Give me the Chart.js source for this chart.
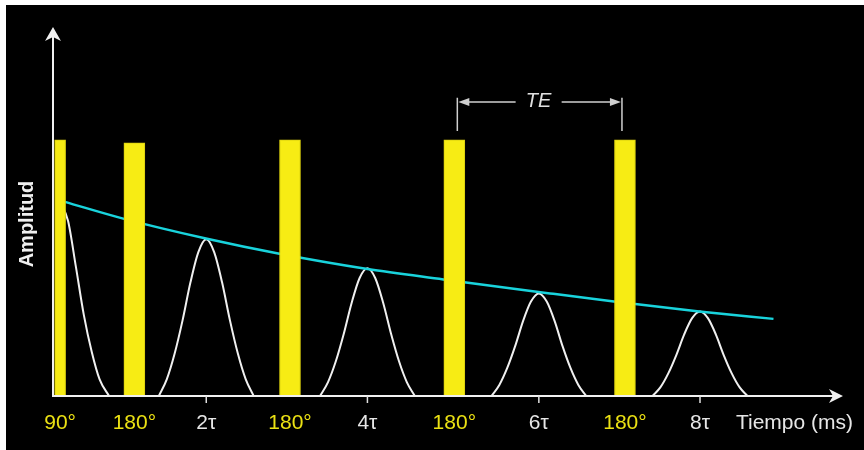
<!DOCTYPE html>
<html>
<head>
<meta charset="utf-8">
<script src="https://cdn.jsdelivr.net/npm/chart.js@4.4.1/dist/chart.umd.min.js"></script>
<style>
  html, body { margin: 0; background: #fff; }
  #wrap { position: absolute; left: 6px; top: 5px; width: 858px; height: 445px; background: #000; }
</style>
</head>
<body>
<div id="wrap"><canvas id="echoChart" width="858" height="445"></canvas></div>
<script>
// pulses (ms, amplitude in arbitrary units 0-100)
const pulseTimes = [0, 9.4, 29.1, 49.9, 71.5];
const pulseHeights = [69.4, 68.6, 69.4, 69.4, 69.4];

// T2 decay envelope (cyan)
const decayTimes = [0.6, 8.1, 18.6, 27.6, 38.9, 48.5, 62.0, 70.1, 80.9, 90.3];
const decayAmps = [52.6, 48.0, 42.6, 38.6, 34.4, 31.6, 27.8, 25.6, 22.9, 20.9];

// FID after the 90° pulse
const fidTimes = [0, 1, 2, 3, 4, 5, 6.2];
const fidAmps = [52.6, 47.5, 35.0, 22.0, 12.0, 4.5, 0];

// echoes
const echo2Times = [12.5, 13.5, 14.5, 15.5, 16.5, 17.5, 18.5, 19.5, 20.5, 21.5, 22.5, 23.5, 24.5];
const echo2Amps = [0, 4.5, 11.5, 20.5, 30.8, 39.0, 42.5, 39.0, 30.8, 20.5, 11.5, 4.5, 0];
const echo4Times = [32.9, 33.9, 34.9, 35.9, 36.9, 37.9, 38.9, 39.9, 40.9, 41.9, 42.9, 43.9, 44.9];
const echo4Amps = [0, 3.7, 9.4, 16.8, 25.2, 31.9, 34.6, 31.9, 25.2, 16.8, 9.4, 3.7, 0];
const echo6Times = [54.6, 55.6, 56.6, 57.6, 58.6, 59.6, 60.6, 61.6, 62.6, 63.6, 64.6, 65.6, 66.6];
const echo6Amps = [0, 3.0, 7.6, 13.5, 20.3, 25.6, 27.8, 25.6, 20.3, 13.5, 7.6, 3.0, 0];
const echo8Times = [75.0, 76.0, 77.0, 78.0, 79.0, 80.0, 81.0, 82.0, 83.0, 84.0, 85.0, 86.0, 87.0];
const echo8Amps = [0, 2.4, 6.2, 11.1, 16.7, 21.1, 22.9, 21.1, 16.7, 11.1, 6.2, 2.4, 0];

// axis labels under the time axis
const labelTimes = [0, 9.4, 18.5, 29.1, 38.9, 49.9, 60.6, 71.5, 81.0];
const labelTexts = ['90°', '180°', '2τ', '180°', '4τ', '180°', '6τ', '180°', '8τ'];

const FONT = "'Liberation Sans', Arial, sans-serif";
const YELLOW = '#f7ec14';
const CYAN = '#19d3dc';
const WHITE = '#f0f0f0';

function pts(xs, ys) {
  return xs.map((x, i) => ({ x: x, y: ys[i] }));
}

function curve(label, xs, ys, color, width) {
  return {
    type: 'line',
    label: label,
    data: pts(xs, ys),
    borderColor: color,
    borderWidth: width,
    pointRadius: 0,
    fill: false,
    cubicInterpolationMode: 'monotone',
    order: 2
  };
}

// axes, arrows, labels and the TE bracket
const overlay = {
  id: 'overlay',
  afterDatasetsDraw(chart) {
    const { ctx, chartArea: a, scales: { x, y } } = chart;
    ctx.save();
    ctx.strokeStyle = WHITE;
    ctx.fillStyle = WHITE;
    ctx.lineWidth = 2;

    // y axis + arrow
    ctx.beginPath();
    ctx.moveTo(a.left, a.bottom);
    ctx.lineTo(a.left, a.top + 8);
    ctx.stroke();
    ctx.beginPath();
    ctx.moveTo(a.left, a.top);
    ctx.lineTo(a.left - 8, a.top + 14);
    ctx.lineTo(a.left, a.top + 10);
    ctx.lineTo(a.left + 8, a.top + 14);
    ctx.closePath();
    ctx.fill();

    // x axis + arrow
    ctx.beginPath();
    ctx.moveTo(a.left - 1, a.bottom);
    ctx.lineTo(a.right - 8, a.bottom);
    ctx.stroke();
    ctx.beginPath();
    ctx.moveTo(a.right, a.bottom);
    ctx.lineTo(a.right - 14, a.bottom - 7);
    ctx.lineTo(a.right - 10, a.bottom);
    ctx.lineTo(a.right - 14, a.bottom + 7);
    ctx.closePath();
    ctx.fill();

    // tick labels
    ctx.font = '21px ' + FONT;
    ctx.textAlign = 'center';
    ctx.textBaseline = 'middle';
    labelTexts.forEach((t, i) => {
      const px = x.getPixelForValue(labelTimes[i]);
      const isPulse = t.indexOf('°') >= 0;
      if (!isPulse) {
        ctx.strokeStyle = '#e0e0e0';
        ctx.lineWidth = 1.5;
        ctx.beginPath();
        ctx.moveTo(px, a.bottom);
        ctx.lineTo(px, a.bottom + 7);
        ctx.stroke();
      }
      ctx.fillStyle = isPulse ? '#ebe113' : '#e6e6e6';
      ctx.fillText(t, px, a.bottom + 27);
    });

    // axis titles
    ctx.fillStyle = '#e6e6e6';
    ctx.textAlign = 'right';
    ctx.fillText('Tiempo (ms)', a.right + 10, a.bottom + 27);

    ctx.save();
    ctx.translate(a.left - 26, 219);
    ctx.rotate(-Math.PI / 2);
    ctx.textAlign = 'center';
    ctx.font = 'bold 20px ' + FONT;
    ctx.fillStyle = '#f0f0f0';
    ctx.fillText('Amplitud', 0, 0);
    ctx.restore();

    // TE bracket between the last two 180° pulses
    const xl = x.getPixelForValue(pulseTimes[3]) + 3;
    const xr = x.getPixelForValue(pulseTimes[4]) - 3;
    const yTop = y.getPixelForValue(80.8);
    const yBot = y.getPixelForValue(71.8);
    const yMid = y.getPixelForValue(79.7);
    const xc = (xl + xr) / 2 + 2;
    ctx.strokeStyle = '#cfcfcf';
    ctx.fillStyle = '#cfcfcf';
    ctx.lineWidth = 1.5;
    ctx.beginPath();
    ctx.moveTo(xl, yTop); ctx.lineTo(xl, yBot);
    ctx.moveTo(xr, yTop); ctx.lineTo(xr, yBot);
    ctx.moveTo(xl + 10, yMid); ctx.lineTo(xc - 26, yMid);
    ctx.moveTo(xc + 20, yMid); ctx.lineTo(xr - 10, yMid);
    ctx.stroke();
    ctx.beginPath();
    ctx.moveTo(xl + 1, yMid);
    ctx.lineTo(xl + 12, yMid - 4);
    ctx.lineTo(xl + 12, yMid + 4);
    ctx.closePath();
    ctx.fill();
    ctx.beginPath();
    ctx.moveTo(xr - 1, yMid);
    ctx.lineTo(xr - 12, yMid - 4);
    ctx.lineTo(xr - 12, yMid + 4);
    ctx.closePath();
    ctx.fill();
    ctx.font = 'italic 20px ' + FONT;
    ctx.textAlign = 'center';
    ctx.fillStyle = '#e0e0e0';
    ctx.fillText('TE', xc - 3, yMid);

    ctx.restore();
  }
};

const ctx = document.getElementById('echoChart').getContext('2d');
const echoChart = new Chart(ctx, {
  type: 'bar',
  data: {
    datasets: [
      {
        label: '90°',
        data: pts(pulseTimes.slice(0, 1), pulseHeights.slice(0, 1)),
        backgroundColor: YELLOW,
        borderColor: '#d9cf0e',
        borderWidth: 1,
        barThickness: 11,
        grouped: false,
        order: 0
      },
      {
        label: '180°',
        data: pts(pulseTimes.slice(1), pulseHeights.slice(1)),
        backgroundColor: YELLOW,
        borderColor: '#d9cf0e',
        borderWidth: 1,
        barThickness: 21,
        grouped: false,
        order: 0
      },
      curve('T2', decayTimes, decayAmps, CYAN, 2.5),
      curve('FID', fidTimes, fidAmps, WHITE, 2),
      curve('2τ', echo2Times, echo2Amps, WHITE, 2),
      curve('4τ', echo4Times, echo4Amps, WHITE, 2),
      curve('6τ', echo6Times, echo6Amps, WHITE, 2),
      curve('8τ', echo8Times, echo8Amps, WHITE, 2)
    ]
  },
  options: {
    responsive: false,
    animation: false,
    layout: { padding: { left: 47, right: 21, top: 22, bottom: 54 } },
    plugins: { legend: { display: false }, tooltip: { enabled: false } },
    scales: {
      x: { type: 'linear', min: -0.9, max: 99.1, offset: false, display: false },
      y: { type: 'linear', min: 0, max: 100, display: false }
    }
  },
  plugins: [overlay]
});
</script>
</body>
</html>
